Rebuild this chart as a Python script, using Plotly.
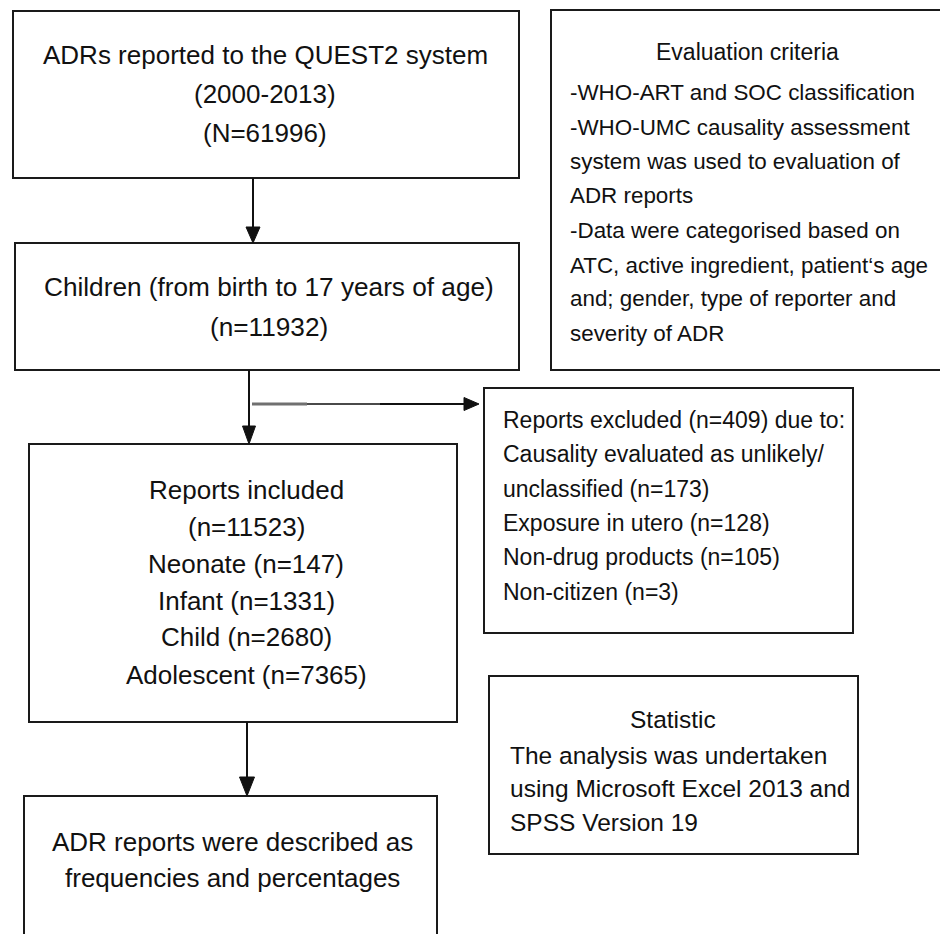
import plotly.graph_objects as go

# ---------------- data ----------------
study_period = "2000-2013"
total_reports = 61996
children_reports = 11932
included_reports = 11523
age_groups = ["Neonate", "Infant", "Child", "Adolescent"]
age_counts = [147, 1331, 2680, 7365]
excluded_reports = 409
exclusion_reasons = ["Causality evaluated as unlikely/|unclassified", "Exposure in utero",
                     "Non-drug products", "Non-citizen"]
exclusion_counts = [173, 128, 105, 3]
criteria_title = "Evaluation criteria"
criteria_lines = ["-WHO-ART and SOC classification",
                  "-WHO-UMC causality assessment",
                  "system was used to evaluation of",
                  "ADR reports",
                  "-Data were categorised based on",
                  "ATC, active ingredient, patient\u2018s age",
                  "and; gender, type of reporter and",
                  "severity of ADR"]
statistic_title = "Statistic"
statistic_lines = ["The analysis was undertaken",
                   "using Microsoft Excel 2013 and",
                   "SPSS Version 19"]
outcome_lines = ["ADR reports were described as", "frequencies and percentages"]

# ---------------- build text blocks ----------------
source_lines = ["ADRs reported to the QUEST2 system", f"({study_period})", f"(N={total_reports})"]
children_lines = ["Children (from birth to 17 years of age)", f"(n={children_reports})"]
included_lines = ["Reports included", f"(n={included_reports})"] + \
    [f"{g} (n={c})" for g, c in zip(age_groups, age_counts)]
excluded_lines = [f"Reports excluded (n={excluded_reports}) due to:"]
for r, c in zip(exclusion_reasons, exclusion_counts):
    parts = r.split("|")
    excluded_lines += parts[:-1] + [f"{parts[-1]} (n={c})"]

FONT = "Liberation Sans, Arial, Helvetica, sans-serif"
INK = "#111111"
fig = go.Figure()

shapes = []
annotations = []


def box(x0, y0, x1, y1):
    shapes.append(dict(type="rect", xref="x", yref="y", x0=x0, y0=y0, x1=x1, y1=y1,
                       line=dict(color="#1a1a1a", width=2), fillcolor="rgba(0,0,0,0)"))


def lines_text(lines, x, ys, size, anchor="center"):
    for t, y in zip(lines, ys):
        annotations.append(dict(x=x, y=y, xref="x", yref="y", text=t, showarrow=False,
                                xanchor=anchor, yanchor="middle",
                                font=dict(family=FONT, size=size, color=INK)))


def seg(x0, y0, x1, y1, color="#111111", width=2):
    shapes.append(dict(type="line", xref="x", yref="y", x0=x0, y0=y0, x1=x1, y1=y1,
                       line=dict(color=color, width=width)))


def head_down(x, ytip, length=18, half=7):
    shapes.append(dict(type="path", xref="x", yref="y",
                       path=f"M {x-half} {ytip-length} L {x+half} {ytip-length} L {x} {ytip} Z",
                       fillcolor="#111111", line=dict(color="#111111", width=1)))


def head_right(xtip, y, length=15, half=6.5):
    shapes.append(dict(type="path", xref="x", yref="y",
                       path=f"M {xtip-length} {y-half} L {xtip-length} {y+half} L {xtip} {y} Z",
                       fillcolor="#111111", line=dict(color="#111111", width=1)))


# boxes
box(13, 11, 519, 178)      # source
box(15, 243, 519, 370)     # children
box(551, 10, 950, 370)     # evaluation criteria
box(484, 388, 853, 633)    # excluded
box(29, 444, 457, 722)     # included
box(489, 676, 858, 854)    # statistic
box(24, 796, 437, 950)     # outcome

# arrows
seg(253, 178, 253, 230)
head_down(253, 243, 16, 7)
seg(249, 370, 249, 430)
head_down(249, 444, 18, 6.5)
seg(247, 722, 247, 782)
head_down(247, 796, 19, 7.5)
seg(252, 404, 307, 404, color="#707070", width=3)
seg(307, 404, 380, 404, color="#4a4a4a", width=2)
seg(380, 404, 466, 404, color="#111111", width=2)
head_right(479, 404, 15, 6.5)

# text
lines_text(source_lines, 265, [55, 94, 133], 26)
lines_text(children_lines, 269, [287, 327], 26.2)
lines_text(included_lines, 246, [490, 527, 564, 601, 637, 675], 26)
lines_text(outcome_lines, 232, [842, 878], 26)
lines_text([criteria_title], 747, [52], 23)
lines_text(criteria_lines, 568, [92, 127, 161, 195, 230, 265, 298, 333], 22.4, anchor="left")
lines_text(excluded_lines, 501, [420, 454, 489, 523, 557, 592], 23, anchor="left")
lines_text([statistic_title], 673, [719], 24.5)
lines_text(statistic_lines, 508, [755, 788, 822], 24.5, anchor="left")

fig.update_layout(
    width=940, height=934,
    margin=dict(l=0, r=0, t=0, b=0),
    paper_bgcolor="white", plot_bgcolor="white",
    xaxis=dict(range=[0, 940], visible=False, fixedrange=True),
    yaxis=dict(range=[934, 0], visible=False, fixedrange=True),
    shapes=shapes, annotations=annotations, showlegend=False,
)

fig.write_html("out.html", config={"displayModeBar": False},
               post_script="document.body.style.margin='0';document.body.style.overflow='hidden';")
